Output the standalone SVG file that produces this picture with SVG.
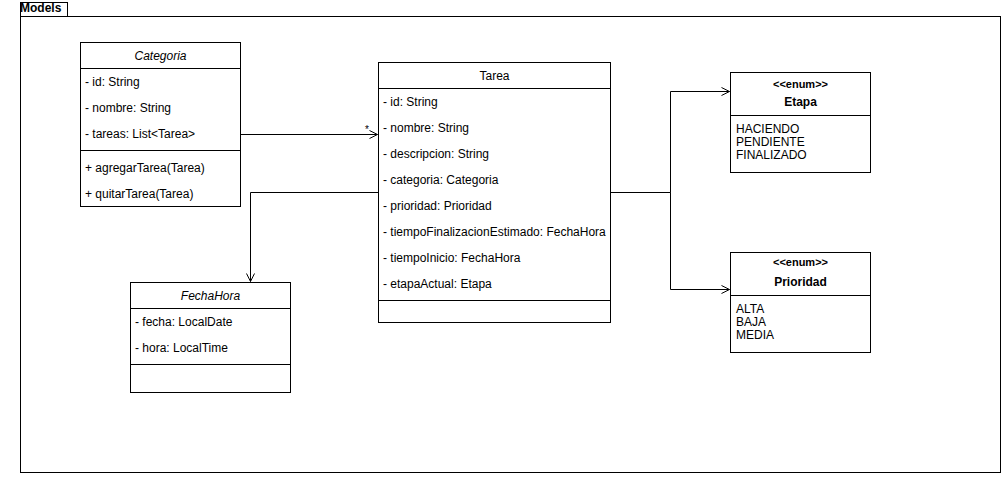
<svg xmlns="http://www.w3.org/2000/svg" width="1001" height="495" viewBox="0 0 1001 495">
<defs>
<style>
text{font-family:"Liberation Sans",Arial,sans-serif;font-size:12px;fill:#000}
.box{fill:#fff;stroke:#000;stroke-width:1}
.ln{stroke:#000;stroke-width:1;fill:none}
.it{font-style:italic}
.b{font-weight:bold}
.c{text-anchor:middle}
</style>
<marker id="open" viewBox="0 0 10 10" refX="9" refY="5" markerWidth="10" markerHeight="10" markerUnits="userSpaceOnUse" orient="auto">
<path d="M1,1 L9,5 L1,9" fill="none" stroke="#000" stroke-width="1"/>
</marker>
</defs>
<rect width="1001" height="495" fill="#fff"/>
<g id="package">
<rect x="20.5" y="2.5" width="47" height="14" class="box"/>
<rect x="20.5" y="16.5" width="980" height="456" class="box"/>
<text x="20" y="12" class="b">Models</text>
</g>
<g id="connectors">
<path d="M240.5,134.5 H377.5" class="ln" marker-end="url(#open)"/>
<text x="365" y="133" style="font-size:10px">*</text>
<path d="M610.5,192.5 H670.5 V91.5 H729.5" class="ln" marker-end="url(#open)"/>
<path d="M610.5,192.5 H670.5 V289.5 H729.5" class="ln" marker-end="url(#open)"/>
<path d="M378.5,192.5 H250.5 V281.5" class="ln" marker-end="url(#open)"/>
</g>
<g id="Categoria">
<rect x="80.5" y="42.5" width="160" height="164" class="box"/>
<path d="M80.5,68.5 H240.5 M80.5,150.5 H240.5" class="ln"/>
<text x="160.5" y="60" class="c it">Categoria</text>
<text x="85" y="86">- id: String</text>
<text x="85" y="112">- nombre: String</text>
<text x="85" y="138">- tareas: List&lt;Tarea&gt;</text>
<text x="85" y="172">+ agregarTarea(Tarea)</text>
<text x="85" y="198">+ quitarTarea(Tarea)</text>
</g>
<g id="Tarea">
<rect x="378.5" y="62.5" width="232" height="260" class="box"/>
<path d="M378.5,88.5 H610.5 M378.5,300.5 H610.5" class="ln"/>
<text x="494.5" y="80" class="c">Tarea</text>
<text x="383" y="106">- id: String</text>
<text x="383" y="132">- nombre: String</text>
<text x="383" y="158">- descripcion: String</text>
<text x="383" y="184">- categoria: Categoria</text>
<text x="383" y="210">- prioridad: Prioridad</text>
<text x="383" y="236">- tiempoFinalizacionEstimado: FechaHora</text>
<text x="383" y="262">- tiempoInicio: FechaHora</text>
<text x="383" y="288">- etapaActual: Etapa</text>
</g>
<g id="FechaHora">
<rect x="130.5" y="282.5" width="160" height="110" class="box"/>
<path d="M130.5,308.5 H290.5 M130.5,364.5 H290.5" class="ln"/>
<text x="210.5" y="300" class="c it">FechaHora</text>
<text x="135" y="326">- fecha: LocalDate</text>
<text x="135" y="352">- hora: LocalTime</text>
</g>
<g id="Etapa">
<rect x="730.5" y="72.5" width="140" height="100" class="box"/>
<path d="M730.5,115.5 H870.5" class="ln"/>
<text x="800.5" y="88" class="c b" style="font-size:11px">&lt;&lt;enum&gt;&gt;</text>
<text x="800.5" y="106" class="c b">Etapa</text>
<text x="736" y="133">HACIENDO</text>
<text x="736" y="146">PENDIENTE</text>
<text x="736" y="159">FINALIZADO</text>
</g>
<g id="Prioridad">
<rect x="730.5" y="252.5" width="140" height="100" class="box"/>
<path d="M730.5,295.5 H870.5" class="ln"/>
<text x="800.5" y="266" class="c b" style="font-size:11px">&lt;&lt;enum&gt;&gt;</text>
<text x="800.5" y="286" class="c b">Prioridad</text>
<text x="736" y="313">ALTA</text>
<text x="736" y="326">BAJA</text>
<text x="736" y="339">MEDIA</text>
</g>
</svg>
